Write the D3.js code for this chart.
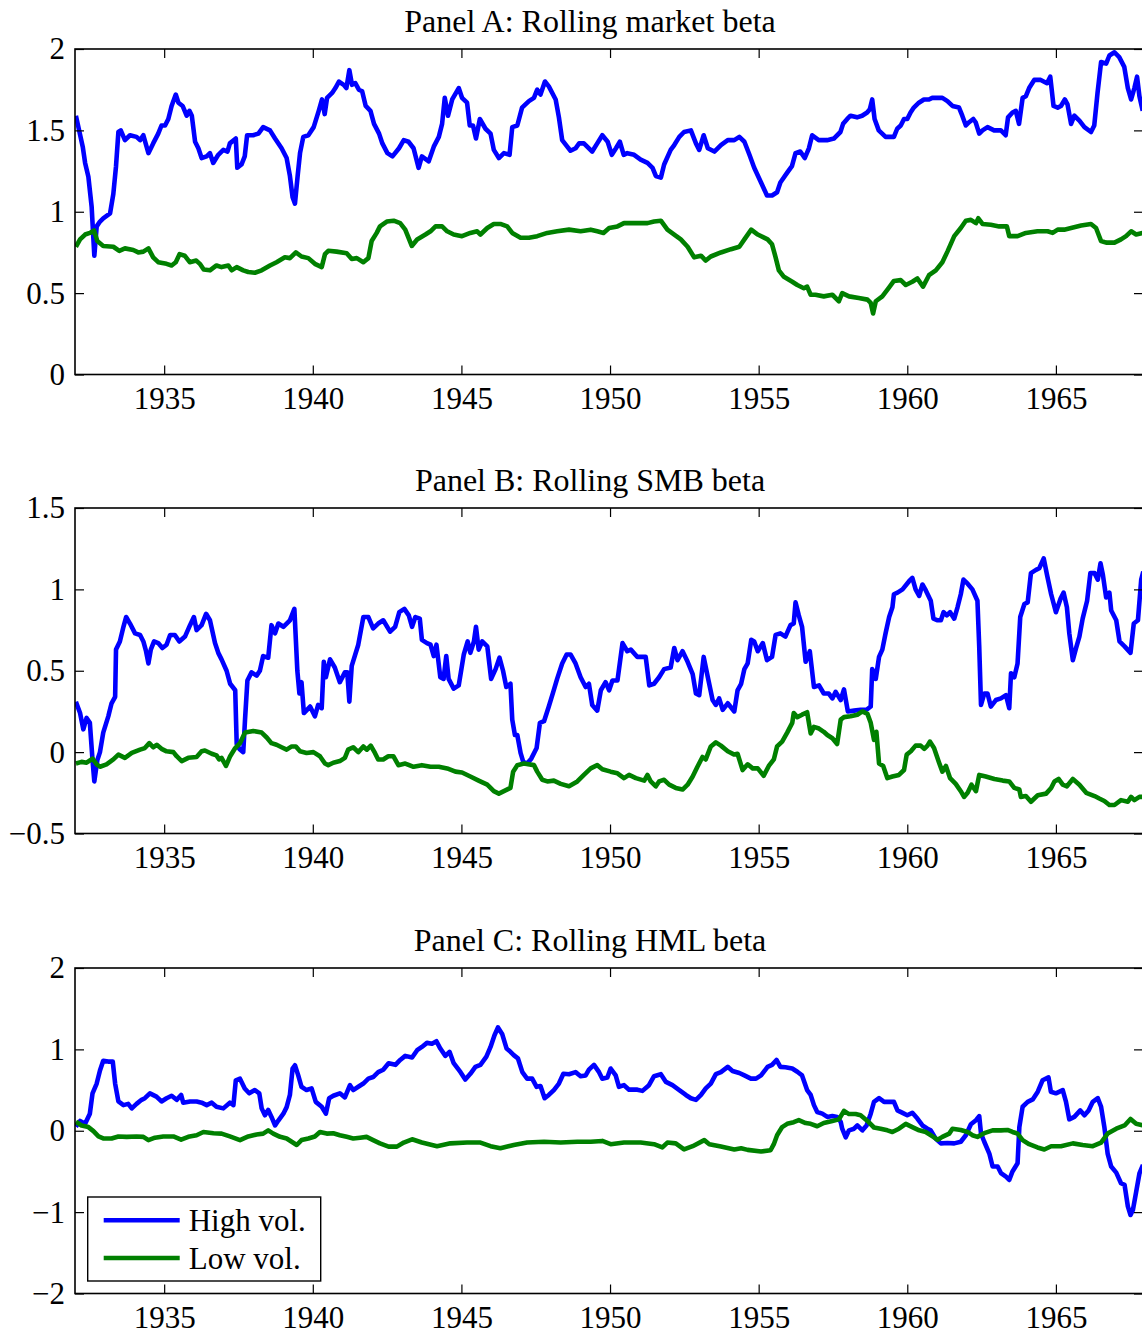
<!DOCTYPE html>
<html>
<head>
<meta charset="utf-8">
<script src="https://cdnjs.cloudflare.com/ajax/libs/d3/7.8.5/d3.min.js"></script>
<style>
body{margin:0;background:#fff}
svg text{font-family:"Liberation Serif","Times New Roman",serif;fill:#000}
</style>
</head>
<body>
<svg id="fig"></svg>
<script>
// ticks and labels
var xTicks=[1935,1940,1945,1950,1955,1960,1965]
var xDomain=[1932,1967.93]
var panelTitles=["Panel A: Rolling market beta","Panel B: Rolling SMB beta","Panel C: Rolling HML beta"]
var yDomains=[[0,2],[-0.5,1.5],[-2,2]]
var yTicks=[[0,0.5,1,1.5,2],[-0.5,0,0.5,1,1.5],[-2,-1,0,1,2]]
var seriesNames=["High vol.","Low vol."]
var seriesColors=["#0000ff","#008000"]

// Panel A: market beta, [year, beta]
var mktHigh=[[1932.03,1.59],[1932.26,1.40],[1932.34,1.30],[1932.45,1.215],[1932.56,1.03],[1932.65,0.73],[1932.73,0.91],[1932.84,0.94],[1932.95,0.96],[1933.18,0.99],[1933.29,1.11],[1933.38,1.28],[1933.46,1.49],[1933.54,1.50],[1933.68,1.44],[1933.85,1.47],[1934.07,1.46],[1934.19,1.44],[1934.30,1.47],[1934.47,1.36],[1934.63,1.42],[1934.80,1.48],[1934.91,1.53],[1935.03,1.53],[1935.14,1.57],[1935.25,1.65],[1935.39,1.72],[1935.48,1.67],[1935.62,1.65],[1935.76,1.59],[1935.85,1.62],[1935.93,1.59],[1936.04,1.43],[1936.15,1.39],[1936.26,1.33],[1936.43,1.34],[1936.54,1.36],[1936.65,1.30],[1936.82,1.35],[1936.99,1.38],[1937.13,1.37],[1937.21,1.42],[1937.41,1.45],[1937.46,1.27],[1937.60,1.29],[1937.71,1.34],[1937.79,1.47],[1937.99,1.47],[1938.17,1.48],[1938.33,1.52],[1938.56,1.50],[1938.73,1.45],[1938.95,1.39],[1939.12,1.33],[1939.23,1.22],[1939.32,1.09],[1939.40,1.05],[1939.49,1.22],[1939.57,1.36],[1939.68,1.46],[1939.85,1.47],[1940.03,1.52],[1940.20,1.62],[1940.31,1.69],[1940.40,1.60],[1940.48,1.70],[1940.65,1.73],[1940.76,1.76],[1940.88,1.80],[1941.04,1.78],[1941.13,1.76],[1941.23,1.87],[1941.32,1.78],[1941.43,1.79],[1941.55,1.75],[1941.66,1.74],[1941.78,1.65],[1941.94,1.62],[1942.06,1.54],[1942.23,1.48],[1942.34,1.42],[1942.51,1.36],[1942.68,1.34],[1942.90,1.39],[1943.06,1.44],[1943.22,1.43],[1943.39,1.39],[1943.56,1.27],[1943.67,1.34],[1943.90,1.31],[1944.07,1.40],[1944.24,1.46],[1944.35,1.54],[1944.44,1.70],[1944.55,1.59],[1944.69,1.69],[1944.91,1.76],[1945.02,1.70],[1945.19,1.67],[1945.28,1.53],[1945.39,1.53],[1945.49,1.45],[1945.62,1.57],[1945.81,1.51],[1945.98,1.48],[1946.09,1.38],[1946.26,1.33],[1946.43,1.36],[1946.62,1.35],[1946.71,1.52],[1946.88,1.53],[1947.04,1.64],[1947.27,1.68],[1947.44,1.70],[1947.55,1.75],[1947.66,1.72],[1947.81,1.80],[1947.94,1.77],[1948.17,1.69],[1948.28,1.58],[1948.39,1.44],[1948.56,1.40],[1948.67,1.375],[1948.84,1.39],[1948.96,1.42],[1949.12,1.42],[1949.40,1.37],[1949.57,1.42],[1949.74,1.47],[1949.92,1.43],[1950.06,1.35],[1950.20,1.39],[1950.33,1.43],[1950.46,1.35],[1950.58,1.36],[1950.81,1.35],[1951.03,1.32],[1951.26,1.30],[1951.43,1.27],[1951.54,1.22],[1951.71,1.21],[1951.82,1.29],[1952.04,1.38],[1952.16,1.41],[1952.33,1.46],[1952.49,1.49],[1952.72,1.50],[1952.89,1.42],[1953.00,1.38],[1953.15,1.47],[1953.29,1.39],[1953.51,1.37],[1953.73,1.41],[1953.96,1.44],[1954.18,1.44],[1954.35,1.46],[1954.52,1.43],[1954.69,1.35],[1954.85,1.27],[1955.08,1.18],[1955.28,1.10],[1955.45,1.10],[1955.62,1.12],[1955.73,1.18],[1955.96,1.24],[1956.12,1.28],[1956.24,1.36],[1956.40,1.37],[1956.55,1.33],[1956.69,1.39],[1956.80,1.47],[1957.02,1.44],[1957.30,1.44],[1957.53,1.45],[1957.75,1.49],[1957.84,1.54],[1957.98,1.57],[1958.09,1.59],[1958.31,1.58],[1958.48,1.59],[1958.65,1.61],[1958.74,1.63],[1958.82,1.69],[1958.90,1.57],[1959.04,1.50],[1959.27,1.46],[1959.38,1.46],[1959.55,1.46],[1959.66,1.51],[1959.78,1.53],[1959.89,1.57],[1960.00,1.57],[1960.11,1.61],[1960.22,1.64],[1960.39,1.67],[1960.56,1.69],[1960.73,1.69],[1960.84,1.70],[1961.01,1.70],[1961.18,1.70],[1961.35,1.68],[1961.52,1.65],[1961.74,1.64],[1961.85,1.59],[1961.97,1.53],[1962.08,1.55],[1962.22,1.57],[1962.30,1.55],[1962.42,1.48],[1962.53,1.50],[1962.70,1.52],[1962.92,1.50],[1963.15,1.50],[1963.31,1.47],[1963.39,1.58],[1963.54,1.61],[1963.65,1.62],[1963.76,1.54],[1963.88,1.70],[1963.99,1.71],[1964.10,1.76],[1964.27,1.81],[1964.49,1.81],[1964.70,1.79],[1964.81,1.83],[1964.92,1.65],[1965.06,1.64],[1965.17,1.65],[1965.30,1.69],[1965.39,1.66],[1965.51,1.54],[1965.62,1.59],[1965.79,1.56],[1965.96,1.52],[1966.18,1.49],[1966.29,1.53],[1966.40,1.73],[1966.52,1.92],[1966.69,1.91],[1966.80,1.96],[1966.97,1.98],[1967.13,1.95],[1967.30,1.89],[1967.42,1.76],[1967.53,1.69],[1967.64,1.76],[1967.73,1.83],[1967.81,1.71],[1967.92,1.62]]
var mktLow=[[1932.03,0.785],[1932.17,0.83],[1932.34,0.86],[1932.50,0.87],[1932.64,0.885],[1932.75,0.82],[1932.95,0.79],[1933.29,0.785],[1933.49,0.76],[1933.68,0.775],[1933.96,0.765],[1934.13,0.75],[1934.30,0.755],[1934.47,0.775],[1934.63,0.72],[1934.80,0.69],[1935.08,0.68],[1935.25,0.67],[1935.39,0.69],[1935.52,0.74],[1935.69,0.73],[1935.86,0.69],[1936.08,0.70],[1936.20,0.68],[1936.33,0.645],[1936.54,0.64],[1936.76,0.67],[1936.93,0.66],[1937.16,0.67],[1937.27,0.64],[1937.44,0.66],[1937.66,0.64],[1937.83,0.63],[1938.05,0.625],[1938.28,0.64],[1938.56,0.67],[1938.78,0.69],[1939.06,0.72],[1939.23,0.715],[1939.43,0.75],[1939.62,0.725],[1939.85,0.715],[1940.07,0.68],[1940.30,0.66],[1940.41,0.74],[1940.52,0.76],[1940.80,0.755],[1941.14,0.745],[1941.31,0.71],[1941.48,0.715],[1941.70,0.69],[1941.87,0.715],[1941.98,0.82],[1942.15,0.87],[1942.26,0.91],[1942.49,0.94],[1942.72,0.945],[1942.94,0.93],[1943.11,0.89],[1943.33,0.79],[1943.51,0.83],[1943.79,0.86],[1943.96,0.88],[1944.13,0.91],[1944.35,0.91],[1944.52,0.88],[1944.74,0.86],[1945.02,0.85],[1945.30,0.87],[1945.53,0.88],[1945.64,0.86],[1945.87,0.90],[1946.09,0.925],[1946.31,0.925],[1946.54,0.91],[1946.71,0.87],[1946.99,0.84],[1947.27,0.84],[1947.55,0.85],[1947.89,0.87],[1948.22,0.88],[1948.62,0.89],[1949.01,0.88],[1949.35,0.89],[1949.57,0.88],[1949.78,0.87],[1949.97,0.90],[1950.25,0.91],[1950.47,0.93],[1950.81,0.93],[1951.26,0.93],[1951.48,0.94],[1951.71,0.945],[1951.93,0.89],[1952.16,0.86],[1952.38,0.83],[1952.61,0.785],[1952.83,0.72],[1953.06,0.73],[1953.22,0.70],[1953.39,0.725],[1953.73,0.75],[1954.07,0.77],[1954.35,0.785],[1954.52,0.83],[1954.75,0.89],[1954.97,0.86],[1955.30,0.83],[1955.45,0.80],[1955.57,0.72],[1955.68,0.64],[1955.85,0.60],[1956.13,0.57],[1956.30,0.55],[1956.52,0.53],[1956.63,0.54],[1956.75,0.49],[1956.91,0.49],[1957.19,0.48],[1957.48,0.49],[1957.70,0.45],[1957.81,0.50],[1958.04,0.48],[1958.37,0.47],[1958.66,0.46],[1958.77,0.44],[1958.85,0.375],[1958.94,0.45],[1959.16,0.48],[1959.39,0.535],[1959.55,0.575],[1959.78,0.58],[1959.95,0.55],[1960.17,0.57],[1960.34,0.59],[1960.53,0.54],[1960.73,0.61],[1960.96,0.64],[1961.18,0.69],[1961.35,0.755],[1961.58,0.85],[1961.80,0.90],[1961.97,0.945],[1962.14,0.95],[1962.31,0.93],[1962.39,0.96],[1962.53,0.925],[1962.81,0.92],[1963.09,0.91],[1963.35,0.91],[1963.43,0.85],[1963.71,0.85],[1963.99,0.87],[1964.38,0.88],[1964.72,0.88],[1964.89,0.87],[1965.06,0.89],[1965.28,0.89],[1965.51,0.90],[1965.85,0.915],[1966.18,0.925],[1966.35,0.90],[1966.52,0.82],[1966.69,0.81],[1966.97,0.81],[1967.19,0.83],[1967.36,0.85],[1967.53,0.88],[1967.70,0.86],[1967.92,0.87]]

// Panel B: SMB beta
var smbHigh=[[1932.03,0.31],[1932.17,0.24],[1932.28,0.14],[1932.39,0.21],[1932.50,0.18],[1932.59,-0.05],[1932.65,-0.18],[1932.75,-0.05],[1932.84,0.00],[1932.95,0.12],[1933.12,0.22],[1933.23,0.30],[1933.35,0.34],[1933.38,0.63],[1933.51,0.68],[1933.63,0.77],[1933.72,0.83],[1933.85,0.79],[1934.02,0.73],[1934.19,0.72],[1934.30,0.68],[1934.39,0.62],[1934.47,0.545],[1934.55,0.63],[1934.66,0.68],[1934.80,0.67],[1934.94,0.64],[1935.08,0.66],[1935.20,0.72],[1935.36,0.72],[1935.51,0.68],[1935.70,0.71],[1935.87,0.78],[1936.00,0.83],[1936.09,0.75],[1936.26,0.78],[1936.41,0.85],[1936.54,0.81],[1936.71,0.67],[1936.82,0.61],[1936.93,0.57],[1937.10,0.50],[1937.22,0.42],[1937.39,0.38],[1937.44,0.05],[1937.53,0.02],[1937.66,0.00],[1937.72,0.20],[1937.80,0.44],[1937.94,0.49],[1938.11,0.47],[1938.22,0.50],[1938.33,0.59],[1938.50,0.58],[1938.61,0.78],[1938.73,0.73],[1938.84,0.79],[1939.01,0.77],[1939.23,0.81],[1939.38,0.88],[1939.48,0.50],[1939.55,0.36],[1939.62,0.43],[1939.70,0.24],[1939.91,0.28],[1940.07,0.22],[1940.18,0.29],[1940.30,0.27],[1940.37,0.555],[1940.44,0.46],[1940.58,0.57],[1940.74,0.52],[1940.91,0.43],[1941.08,0.49],[1941.16,0.49],[1941.23,0.31],[1941.31,0.53],[1941.53,0.66],[1941.70,0.83],[1941.87,0.83],[1942.03,0.76],[1942.20,0.79],[1942.37,0.81],[1942.60,0.74],[1942.77,0.77],[1942.91,0.86],[1943.08,0.88],[1943.23,0.84],[1943.34,0.77],[1943.45,0.83],[1943.60,0.82],[1943.67,0.69],[1943.84,0.67],[1943.96,0.66],[1944.07,0.59],[1944.16,0.66],[1944.29,0.46],[1944.40,0.45],[1944.49,0.59],[1944.57,0.45],[1944.74,0.39],[1944.91,0.41],[1945.08,0.60],[1945.21,0.68],[1945.30,0.61],[1945.42,0.68],[1945.49,0.77],[1945.58,0.63],[1945.70,0.68],[1945.87,0.65],[1946.00,0.45],[1946.15,0.51],[1946.28,0.58],[1946.40,0.50],[1946.51,0.40],[1946.65,0.42],[1946.71,0.20],[1946.80,0.105],[1946.88,0.105],[1946.99,-0.005],[1947.08,-0.06],[1947.21,-0.07],[1947.35,-0.04],[1947.53,0.025],[1947.64,0.18],[1947.78,0.19],[1947.94,0.28],[1948.09,0.37],[1948.22,0.45],[1948.39,0.545],[1948.54,0.60],[1948.67,0.60],[1948.84,0.545],[1949.01,0.46],[1949.18,0.40],[1949.29,0.42],[1949.40,0.29],[1949.57,0.255],[1949.69,0.38],[1949.85,0.43],[1949.97,0.38],[1950.08,0.44],[1950.25,0.44],[1950.42,0.67],[1950.58,0.62],[1950.70,0.63],[1950.92,0.585],[1951.20,0.585],[1951.32,0.41],[1951.48,0.42],[1951.65,0.46],[1951.82,0.51],[1952.04,0.52],[1952.16,0.64],[1952.27,0.565],[1952.44,0.62],[1952.61,0.555],[1952.78,0.48],[1952.89,0.36],[1953.00,0.35],[1953.15,0.585],[1953.29,0.46],[1953.45,0.32],[1953.56,0.29],[1953.67,0.33],[1953.79,0.26],[1953.96,0.30],[1954.18,0.25],[1954.29,0.38],[1954.41,0.42],[1954.52,0.51],[1954.63,0.545],[1954.75,0.69],[1954.85,0.68],[1954.97,0.62],[1955.14,0.67],[1955.28,0.565],[1955.45,0.585],[1955.57,0.72],[1955.73,0.73],[1955.90,0.71],[1956.07,0.78],[1956.18,0.79],[1956.24,0.92],[1956.35,0.84],[1956.46,0.77],[1956.58,0.555],[1956.72,0.62],[1956.86,0.40],[1957.03,0.41],[1957.19,0.36],[1957.36,0.36],[1957.48,0.33],[1957.59,0.37],[1957.76,0.32],[1957.87,0.385],[1958.00,0.25],[1958.21,0.255],[1958.43,0.26],[1958.63,0.26],[1958.77,0.28],[1958.82,0.51],[1958.94,0.45],[1959.05,0.585],[1959.16,0.63],[1959.27,0.73],[1959.39,0.83],[1959.50,0.89],[1959.55,0.97],[1959.67,0.98],[1959.84,1.00],[1960.06,1.05],[1960.17,1.07],[1960.28,1.00],[1960.40,0.96],[1960.51,1.03],[1960.62,0.995],[1960.79,0.93],[1960.88,0.82],[1961.02,0.81],[1961.13,0.81],[1961.22,0.86],[1961.33,0.84],[1961.44,0.86],[1961.58,0.82],[1961.69,0.89],[1961.80,0.97],[1961.89,1.06],[1962.03,1.035],[1962.19,1.00],[1962.36,0.93],[1962.42,0.65],[1962.48,0.29],[1962.59,0.36],[1962.70,0.36],[1962.81,0.28],[1962.98,0.32],[1963.15,0.33],[1963.32,0.35],[1963.43,0.27],[1963.49,0.485],[1963.60,0.46],[1963.71,0.545],[1963.80,0.83],[1963.94,0.91],[1964.05,0.92],[1964.16,1.10],[1964.33,1.12],[1964.44,1.13],[1964.59,1.19],[1964.70,1.09],[1964.84,0.97],[1965.00,0.86],[1965.15,0.94],[1965.26,0.98],[1965.37,0.89],[1965.45,0.73],[1965.57,0.565],[1965.68,0.64],[1965.79,0.71],[1965.90,0.82],[1966.05,0.93],[1966.16,1.10],[1966.30,1.10],[1966.41,1.06],[1966.50,1.16],[1966.58,1.09],[1966.69,0.95],[1966.80,0.98],[1966.86,0.87],[1967.03,0.81],[1967.14,0.68],[1967.31,0.65],[1967.51,0.61],[1967.62,0.79],[1967.76,0.81],[1967.87,1.06],[1967.94,1.11]]
var smbLow=[[1932.03,-0.07],[1932.22,-0.06],[1932.39,-0.065],[1932.59,-0.04],[1932.73,-0.075],[1932.84,-0.09],[1933.06,-0.075],[1933.29,-0.045],[1933.46,-0.015],[1933.68,-0.035],[1933.91,-0.005],[1934.19,0.015],[1934.35,0.025],[1934.50,0.055],[1934.63,0.03],[1934.75,0.045],[1934.91,0.02],[1935.08,0.005],[1935.31,0.0],[1935.42,-0.025],[1935.59,-0.055],[1935.81,-0.035],[1936.09,-0.03],[1936.26,0.005],[1936.37,0.01],[1936.60,-0.01],[1936.76,-0.02],[1936.85,-0.045],[1936.93,-0.035],[1937.08,-0.085],[1937.22,-0.025],[1937.39,0.025],[1937.55,0.055],[1937.72,0.12],[1938.00,0.13],[1938.28,0.12],[1938.45,0.09],[1938.61,0.055],[1938.78,0.045],[1938.95,0.03],[1939.12,0.015],[1939.29,0.035],[1939.43,0.035],[1939.57,0.005],[1939.79,-0.005],[1940.02,0.0],[1940.24,-0.025],[1940.41,-0.07],[1940.52,-0.08],[1940.69,-0.065],[1940.91,-0.055],[1941.08,-0.035],[1941.19,0.015],[1941.36,0.03],[1941.53,0.0],[1941.70,0.035],[1941.82,0.015],[1941.95,0.04],[1942.09,-0.005],[1942.20,-0.045],[1942.37,-0.045],[1942.54,-0.025],[1942.71,-0.025],[1942.88,-0.08],[1943.11,-0.07],[1943.39,-0.09],[1943.67,-0.08],[1943.96,-0.09],[1944.24,-0.09],[1944.52,-0.10],[1944.80,-0.12],[1945.02,-0.125],[1945.30,-0.15],[1945.58,-0.175],[1945.87,-0.20],[1946.09,-0.24],[1946.26,-0.255],[1946.43,-0.24],[1946.65,-0.22],[1946.74,-0.12],[1946.88,-0.08],[1947.10,-0.07],[1947.44,-0.08],[1947.55,-0.12],[1947.72,-0.17],[1947.89,-0.18],[1948.11,-0.175],[1948.34,-0.195],[1948.62,-0.21],[1948.90,-0.18],[1949.12,-0.14],[1949.35,-0.10],[1949.57,-0.08],[1949.74,-0.105],[1950.02,-0.12],[1950.25,-0.13],[1950.47,-0.16],[1950.64,-0.14],[1950.87,-0.16],[1951.15,-0.175],[1951.26,-0.14],[1951.37,-0.18],[1951.54,-0.21],[1951.65,-0.18],[1951.82,-0.17],[1951.99,-0.20],[1952.21,-0.22],[1952.44,-0.23],[1952.61,-0.20],[1952.78,-0.15],[1952.94,-0.09],[1953.11,-0.03],[1953.22,-0.045],[1953.39,0.035],[1953.56,0.06],[1953.73,0.04],[1953.96,0.005],[1954.18,-0.015],[1954.29,-0.01],[1954.46,-0.11],[1954.63,-0.075],[1954.80,-0.10],[1954.97,-0.10],[1955.17,-0.145],[1955.34,-0.085],[1955.51,-0.045],[1955.62,0.035],[1955.79,0.065],[1955.96,0.12],[1956.13,0.18],[1956.18,0.24],[1956.30,0.215],[1956.46,0.23],[1956.63,0.245],[1956.75,0.115],[1956.86,0.155],[1957.03,0.145],[1957.19,0.125],[1957.31,0.105],[1957.48,0.085],[1957.64,0.05],[1957.76,0.20],[1957.87,0.215],[1958.09,0.22],[1958.32,0.23],[1958.49,0.25],[1958.66,0.235],[1958.77,0.18],[1958.88,0.075],[1958.96,0.125],[1959.05,-0.07],[1959.19,-0.085],[1959.33,-0.16],[1959.50,-0.15],[1959.72,-0.14],[1959.89,-0.11],[1959.98,-0.015],[1960.12,0.005],[1960.28,0.04],[1960.45,0.04],[1960.57,0.02],[1960.68,0.04],[1960.76,0.065],[1960.90,0.025],[1961.07,-0.065],[1961.18,-0.12],[1961.30,-0.085],[1961.44,-0.16],[1961.63,-0.195],[1961.80,-0.24],[1961.91,-0.275],[1962.03,-0.25],[1962.16,-0.20],[1962.31,-0.24],[1962.42,-0.14],[1962.64,-0.15],[1962.93,-0.165],[1963.21,-0.175],[1963.43,-0.18],[1963.60,-0.22],[1963.77,-0.23],[1963.82,-0.275],[1963.99,-0.27],[1964.16,-0.305],[1964.39,-0.265],[1964.67,-0.255],[1964.84,-0.22],[1964.95,-0.18],[1965.09,-0.165],[1965.23,-0.20],[1965.37,-0.21],[1965.57,-0.165],[1965.79,-0.20],[1966.02,-0.25],[1966.30,-0.27],[1966.46,-0.285],[1966.63,-0.30],[1966.80,-0.325],[1966.97,-0.325],[1967.19,-0.295],[1967.42,-0.305],[1967.53,-0.275],[1967.64,-0.295],[1967.81,-0.275],[1967.94,-0.275]]

// Panel C: HML beta
var hmlHigh=[[1932.03,0.05],[1932.17,0.12],[1932.34,0.085],[1932.50,0.21],[1932.59,0.46],[1932.73,0.58],[1932.84,0.74],[1932.95,0.86],[1933.12,0.85],[1933.27,0.85],[1933.35,0.58],[1933.46,0.36],[1933.63,0.315],[1933.79,0.33],[1933.91,0.275],[1934.07,0.33],[1934.24,0.38],[1934.35,0.40],[1934.52,0.46],[1934.74,0.42],[1934.91,0.36],[1935.08,0.40],[1935.25,0.43],[1935.42,0.38],[1935.57,0.44],[1935.64,0.345],[1935.87,0.36],[1936.09,0.36],[1936.26,0.345],[1936.43,0.315],[1936.60,0.345],[1936.76,0.295],[1936.99,0.275],[1937.21,0.345],[1937.33,0.315],[1937.41,0.62],[1937.55,0.64],[1937.71,0.52],[1937.86,0.46],[1938.05,0.50],[1938.20,0.46],[1938.28,0.275],[1938.39,0.19],[1938.50,0.255],[1938.61,0.17],[1938.73,0.065],[1938.84,0.125],[1939.01,0.21],[1939.12,0.29],[1939.23,0.44],[1939.32,0.765],[1939.40,0.805],[1939.51,0.68],[1939.62,0.54],[1939.79,0.50],[1939.96,0.52],[1940.10,0.355],[1940.30,0.295],[1940.44,0.21],[1940.55,0.40],[1940.69,0.43],[1940.91,0.46],[1941.08,0.41],[1941.25,0.56],[1941.36,0.50],[1941.53,0.54],[1941.70,0.58],[1941.87,0.64],[1942.03,0.66],[1942.20,0.72],[1942.37,0.75],[1942.55,0.83],[1942.78,0.81],[1942.94,0.87],[1943.11,0.92],[1943.34,0.90],[1943.51,0.99],[1943.67,1.03],[1943.84,1.08],[1944.01,1.07],[1944.16,1.10],[1944.29,1.01],[1944.46,0.92],[1944.60,0.97],[1944.74,0.83],[1944.97,0.72],[1945.13,0.63],[1945.30,0.70],[1945.47,0.785],[1945.64,0.81],[1945.84,0.91],[1945.98,1.03],[1946.11,1.17],[1946.23,1.27],[1946.37,1.19],[1946.52,1.01],[1946.65,0.97],[1946.76,0.93],[1946.90,0.89],[1947.05,0.72],[1947.21,0.64],[1947.38,0.64],[1947.53,0.54],[1947.66,0.55],[1947.80,0.40],[1947.94,0.44],[1948.11,0.50],[1948.28,0.58],[1948.43,0.70],[1948.62,0.695],[1948.84,0.72],[1949.01,0.67],[1949.18,0.68],[1949.29,0.75],[1949.46,0.81],[1949.63,0.72],[1949.74,0.64],[1949.91,0.655],[1950.02,0.765],[1950.19,0.68],[1950.30,0.54],[1950.47,0.56],[1950.64,0.505],[1950.92,0.505],[1951.09,0.49],[1951.31,0.56],[1951.48,0.67],[1951.71,0.695],[1951.88,0.60],[1952.10,0.56],[1952.33,0.50],[1952.55,0.44],[1952.72,0.40],[1952.89,0.38],[1953.06,0.44],[1953.22,0.52],[1953.39,0.58],[1953.56,0.695],[1953.73,0.72],[1953.96,0.785],[1954.12,0.735],[1954.35,0.71],[1954.52,0.68],[1954.74,0.64],[1954.91,0.64],[1955.08,0.68],[1955.30,0.785],[1955.45,0.81],[1955.60,0.87],[1955.73,0.785],[1955.90,0.78],[1956.13,0.765],[1956.30,0.725],[1956.46,0.68],[1956.63,0.50],[1956.75,0.44],[1956.86,0.315],[1956.97,0.23],[1957.14,0.21],[1957.31,0.17],[1957.48,0.18],[1957.64,0.17],[1957.76,0.11],[1957.81,0.025],[1957.93,-0.08],[1958.04,0.005],[1958.21,0.025],[1958.32,0.065],[1958.49,0.005],[1958.63,0.065],[1958.77,0.21],[1958.88,0.355],[1959.05,0.40],[1959.22,0.355],[1959.39,0.355],[1959.55,0.355],[1959.67,0.25],[1959.84,0.22],[1960.00,0.19],[1960.17,0.22],[1960.34,0.15],[1960.51,0.065],[1960.68,0.025],[1960.79,0.005],[1960.96,-0.10],[1961.13,-0.155],[1961.35,-0.15],[1961.58,-0.155],[1961.80,-0.135],[1961.97,-0.055],[1962.14,0.08],[1962.31,0.13],[1962.42,0.18],[1962.48,-0.035],[1962.59,-0.135],[1962.76,-0.28],[1962.87,-0.44],[1963.04,-0.44],[1963.15,-0.52],[1963.32,-0.565],[1963.43,-0.605],[1963.54,-0.50],[1963.71,-0.40],[1963.77,0.045],[1963.88,0.295],[1964.05,0.355],[1964.22,0.385],[1964.39,0.48],[1964.55,0.62],[1964.75,0.655],[1964.83,0.48],[1965.00,0.46],[1965.23,0.50],[1965.34,0.355],[1965.45,0.14],[1965.62,0.17],[1965.82,0.25],[1965.96,0.19],[1966.10,0.25],[1966.24,0.355],[1966.41,0.40],[1966.52,0.295],[1966.63,0.045],[1966.74,-0.28],[1966.86,-0.44],[1967.03,-0.515],[1967.19,-0.645],[1967.31,-0.665],[1967.42,-0.93],[1967.51,-1.035],[1967.59,-0.975],[1967.70,-0.75],[1967.81,-0.525],[1967.93,-0.42]]
var hmlLow=[[1932.03,0.11],[1932.22,0.065],[1932.45,0.045],[1932.62,-0.005],[1932.79,-0.07],[1932.95,-0.095],[1933.23,-0.095],[1933.46,-0.07],[1933.74,-0.075],[1934.07,-0.07],[1934.30,-0.075],[1934.47,-0.115],[1934.69,-0.085],[1934.97,-0.07],[1935.31,-0.07],[1935.57,-0.11],[1935.81,-0.075],[1936.09,-0.055],[1936.32,-0.015],[1936.66,-0.03],[1936.93,-0.035],[1937.21,-0.07],[1937.55,-0.115],[1937.83,-0.07],[1938.11,-0.045],[1938.33,-0.035],[1938.50,0.005],[1938.67,-0.035],[1938.90,-0.075],[1939.12,-0.095],[1939.29,-0.135],[1939.46,-0.175],[1939.62,-0.115],[1939.85,-0.095],[1940.07,-0.07],[1940.24,-0.015],[1940.47,-0.035],[1940.69,-0.03],[1940.91,-0.055],[1941.14,-0.075],[1941.36,-0.095],[1941.59,-0.085],[1941.81,-0.075],[1942.03,-0.115],[1942.26,-0.155],[1942.55,-0.195],[1942.83,-0.195],[1943.06,-0.145],[1943.34,-0.105],[1943.67,-0.145],[1944.18,-0.19],[1944.63,-0.155],[1945.19,-0.145],[1945.64,-0.145],[1945.98,-0.19],[1946.31,-0.215],[1946.76,-0.175],[1947.21,-0.145],[1947.78,-0.135],[1948.34,-0.145],[1948.90,-0.135],[1949.35,-0.135],[1949.74,-0.125],[1950.02,-0.165],[1950.47,-0.145],[1951.03,-0.145],[1951.48,-0.165],[1951.76,-0.205],[1951.93,-0.145],[1952.21,-0.155],[1952.49,-0.23],[1952.78,-0.19],[1953.17,-0.115],[1953.34,-0.165],[1953.73,-0.195],[1954.18,-0.23],[1954.41,-0.215],[1954.63,-0.235],[1955.08,-0.255],[1955.40,-0.24],[1955.51,-0.165],[1955.62,-0.055],[1955.79,0.045],[1955.96,0.085],[1956.18,0.105],[1956.35,0.13],[1956.58,0.095],[1956.75,0.085],[1956.97,0.055],[1957.19,0.095],[1957.48,0.12],[1957.70,0.14],[1957.87,0.245],[1958.04,0.205],[1958.26,0.205],[1958.43,0.19],[1958.66,0.12],[1958.88,0.04],[1959.10,0.025],[1959.33,0.005],[1959.50,-0.015],[1959.72,0.025],[1959.95,0.085],[1960.17,0.045],[1960.40,0.005],[1960.62,-0.015],[1960.85,-0.07],[1961.02,-0.11],[1961.18,-0.075],[1961.41,-0.035],[1961.52,0.025],[1961.80,0.01],[1962.03,-0.015],[1962.19,-0.055],[1962.36,-0.075],[1962.59,-0.03],[1962.87,0.005],[1963.15,0.005],[1963.37,0.01],[1963.54,-0.015],[1963.71,-0.035],[1963.88,-0.115],[1964.10,-0.165],[1964.38,-0.205],[1964.61,-0.23],[1964.84,-0.19],[1965.17,-0.19],[1965.57,-0.155],[1965.90,-0.175],[1966.24,-0.19],[1966.52,-0.145],[1966.74,-0.035],[1967.03,0.025],[1967.31,0.065],[1967.51,0.145],[1967.70,0.085],[1967.94,0.065]]

var screen={width:1142,height:1335}
var plot={left:75,right:1143}
var panelTops=[49,508,968]
var panelHeight=325.5
var fontSize=31

var svg=d3.select("#fig")
    .attr("width",screen.width)
    .attr("height",screen.height)

var xScale=d3.scaleLinear()
    .domain(xDomain)
    .range([plot.left,plot.right])

var yFormat=d3.format("~g")
var xFormat=d3.format("d")

var drawPanel=function(i,high,low)
{
    var top=panelTops[i]
    var bottom=top+panelHeight
    var yScale=d3.scaleLinear()
        .domain(yDomains[i])
        .range([bottom,top])

    var panel=svg.append("g").attr("id","panel"+i)

    panel.append("clipPath")
        .attr("id","clip"+i)
        .append("rect")
        .attr("x",plot.left)
        .attr("y",top)
        .attr("width",plot.right-plot.left)
        .attr("height",panelHeight)

    var lineGenerator=d3.line()
        .x(function(d){return xScale(d[0])})
        .y(function(d){return yScale(d[1])})

    panel.append("g")
        .attr("clip-path","url(#clip"+i+")")
        .selectAll("path")
        .data([high,low])
        .enter()
        .append("path")
        .attr("d",lineGenerator)
        .attr("fill","none")
        .attr("stroke",function(d,j){return seriesColors[j]})
        .attr("stroke-width",4.6)
        .attr("stroke-linejoin","round")

    // axes, ticks pointing inward like matlab
    var bottomAxis=panel.append("g")
        .attr("transform","translate(0,"+bottom+")")
        .call(d3.axisBottom(xScale).tickValues(xTicks).tickSizeInner(-9).tickSizeOuter(0).tickPadding(12.5).tickFormat(xFormat))
    var topAxis=panel.append("g")
        .attr("transform","translate(0,"+top+")")
        .call(d3.axisTop(xScale).tickValues(xTicks).tickSizeInner(-9).tickSizeOuter(0).tickFormat(""))
    var leftAxis=panel.append("g")
        .attr("transform","translate("+plot.left+",0)")
        .call(d3.axisLeft(yScale).tickValues(yTicks[i]).tickSizeInner(-9).tickSizeOuter(0).tickPadding(10).tickFormat(yFormat))
    var rightAxis=panel.append("g")
        .attr("transform","translate("+plot.right+",0)")
        .call(d3.axisRight(yScale).tickValues(yTicks[i]).tickSizeInner(-9).tickSizeOuter(0).tickFormat(""))

    ;[bottomAxis,topAxis,leftAxis,rightAxis].forEach(function(a)
    {
        a.attr("font-size",fontSize).attr("font-family",null)
        a.select(".domain").remove()
        a.selectAll(".tick line").attr("stroke","#000").attr("stroke-width",1.2)
    })

    panel.append("rect")
        .attr("x",plot.left)
        .attr("y",top)
        .attr("width",plot.right-plot.left)
        .attr("height",panelHeight)
        .attr("fill","none")
        .attr("stroke","#000")
        .attr("stroke-width",1.6)

    panel.append("text")
        .text(panelTitles[i])
        .attr("x",590)
        .attr("y",top-17.5)
        .attr("text-anchor","middle")
        .attr("font-size",32)

    return panel
}

var drawLegend=function(panel,top)
{
    var legend=panel.append("g")
        .attr("transform","translate("+(plot.left+12.7)+","+(top+229)+")")
    legend.append("rect")
        .attr("width",233)
        .attr("height",84)
        .attr("fill","#fff")
        .attr("stroke","#000")
        .attr("stroke-width",1.4)
    var rows=legend.selectAll("g.row")
        .data(seriesNames)
        .enter()
        .append("g")
        .attr("class","row")
        .attr("transform",function(d,j){return "translate(0,"+(23.3+j*37.7)+")"})
    rows.append("line")
        .attr("x1",16)
        .attr("x2",92)
        .attr("stroke",function(d,j){return seriesColors[j]})
        .attr("stroke-width",4.6)
    rows.append("text")
        .text(function(d){return d})
        .attr("x",101)
        .attr("y",10.7)
        .attr("font-size",fontSize)
}

drawPanel(0,mktHigh,mktLow)
drawPanel(1,smbHigh,smbLow)
var panelC=drawPanel(2,hmlHigh,hmlLow)
drawLegend(panelC,panelTops[2])
</script>
</body>
</html>
